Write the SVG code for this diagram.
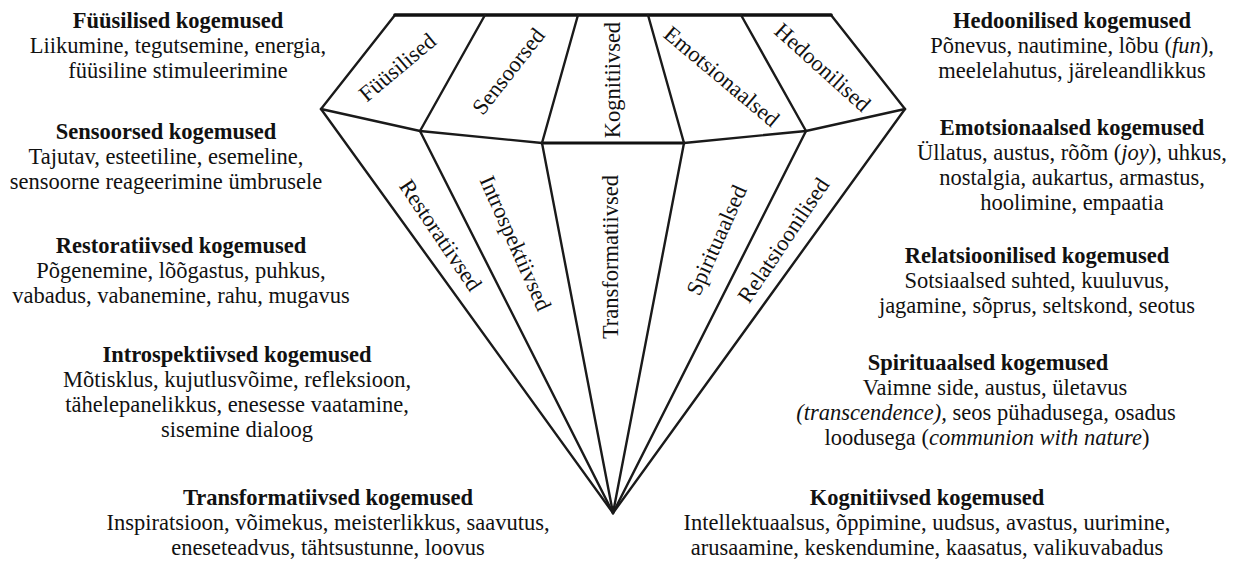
<svg xmlns="http://www.w3.org/2000/svg" width="1240" height="562" viewBox="0 0 1240 562">
<style>
  text { font-family: 'Liberation Serif', Tinos, 'Times New Roman', 'DejaVu Serif', 'Noto Serif', serif; font-size: 22.5px; fill: #111; }
  .blk text { text-anchor: middle; }
  .hd { font-weight: bold; }
  .it { font-style: italic; }
  .lbl { text-anchor: middle; }
  .edge { fill: none; stroke: #1a1a1a; stroke-width: 2.4; stroke-linejoin: miter; stroke-linecap: round; }
  .thick { fill: none; stroke: #111; stroke-width: 3.6; stroke-linecap: round; }
</style>
<rect width="1240" height="562" fill="#fff"/>

<g id="connectors">
  <path class="edge" d="M395,15 L321,109 L613,513 L905,109 L831,15"/>
  <line class="thick" x1="395" y1="15" x2="831" y2="15"/>
  <path class="edge" d="M321,109 L420,131 L542,143"/>
  <path class="edge" d="M684,143 L806,131 L905,109"/>
  <line class="thick" x1="542" y1="143" x2="684" y2="143" style="stroke-width:3"/>
  <line class="edge" x1="485" y1="15" x2="420" y2="131"/>
  <line class="edge" x1="578" y1="15" x2="542" y2="143"/>
  <line class="edge" x1="648" y1="15" x2="684" y2="143"/>
  <line class="edge" x1="741" y1="15" x2="806" y2="131"/>
  <line class="edge" x1="420" y1="131" x2="613" y2="513"/>
  <line class="edge" x1="542" y1="143" x2="613" y2="513"/>
  <line class="edge" x1="684" y1="143" x2="613" y2="513"/>
  <line class="edge" x1="806" y1="131" x2="613" y2="513"/>
</g>

<g id="facet-fyysilised"><text class="lbl" transform="translate(397,67) rotate(-40)" y="8">Füüsilised</text></g>
<g id="facet-sensoorsed"><text class="lbl" transform="translate(508,71) rotate(-52)" y="8">Sensoorsed</text></g>
<g id="facet-kognitiivsed"><text class="lbl" transform="translate(612,80) rotate(-90)" y="8">Kognitiivsed</text></g>
<g id="facet-emotsionaalsed"><text class="lbl" transform="translate(722,76) rotate(40)" y="8">Emotsionaalsed</text></g>
<g id="facet-hedoonilised"><text class="lbl" transform="translate(823,67) rotate(42)" y="8">Hedoonilised</text></g>
<g id="facet-restoratiivsed"><text class="lbl" transform="translate(441,235) rotate(56)" y="8">Restoratiivsed</text></g>
<g id="facet-introspektiivsed"><text class="lbl" transform="translate(516,243) rotate(66)" y="8">Introspektiivsed</text></g>
<g id="facet-transformatiivsed"><text class="lbl" transform="translate(610,257) rotate(-90)" y="8">Transformatiivsed</text></g>
<g id="facet-spirituaalsed"><text class="lbl" transform="translate(716,240) rotate(-66)" y="8">Spirituaalsed</text></g>
<g id="facet-relatsioonilised"><text class="lbl" transform="translate(783,240) rotate(-56)" y="8">Relatsioonilised</text></g>

<g id="blk-fyysilised" class="blk">
  <text class="hd" x="178" y="28">Füüsilised kogemused</text>
  <text x="178" y="53">Liikumine, tegutsemine, energia,</text>
  <text x="178" y="78">füüsiline stimuleerimine</text>
</g>
<g id="blk-sensoorsed" class="blk">
  <text class="hd" x="166" y="139">Sensoorsed kogemused</text>
  <text x="166" y="164">Tajutav, esteetiline, esemeline,</text>
  <text x="166" y="189">sensoorne reageerimine ümbrusele</text>
</g>
<g id="blk-restoratiivsed" class="blk">
  <text class="hd" x="181" y="253">Restoratiivsed kogemused</text>
  <text x="181" y="278">Põgenemine, lõõgastus, puhkus,</text>
  <text x="181" y="303">vabadus, vabanemine, rahu, mugavus</text>
</g>
<g id="blk-introspektiivsed" class="blk">
  <text class="hd" x="237" y="362">Introspektiivsed kogemused</text>
  <text x="237" y="387">Mõtisklus, kujutlusvõime, refleksioon,</text>
  <text x="237" y="412">tähelepanelikkus, enesesse vaatamine,</text>
  <text x="237" y="437">sisemine dialoog</text>
</g>
<g id="blk-transformatiivsed" class="blk">
  <text class="hd" x="328" y="505">Transformatiivsed kogemused</text>
  <text x="328" y="530">Inspiratsioon, võimekus, meisterlikkus, saavutus,</text>
  <text x="328" y="555">eneseteadvus, tähtsustunne, loovus</text>
</g>

<g id="blk-hedoonilised" class="blk">
  <text class="hd" x="1072" y="28">Hedoonilised kogemused</text>
  <text x="1072" y="53">Põnevus, nautimine, lõbu (<tspan class="it">fun</tspan>),</text>
  <text x="1072" y="78">meelelahutus, järeleandlikkus</text>
</g>
<g id="blk-emotsionaalsed" class="blk">
  <text class="hd" x="1072" y="135">Emotsionaalsed kogemused</text>
  <text x="1072" y="160">Üllatus, austus, rõõm (<tspan class="it">joy</tspan>), uhkus,</text>
  <text x="1072" y="185">nostalgia, aukartus, armastus,</text>
  <text x="1072" y="210">hoolimine, empaatia</text>
</g>
<g id="blk-relatsioonilised" class="blk">
  <text class="hd" x="1037" y="263">Relatsioonilised kogemused</text>
  <text x="1037" y="288">Sotsiaalsed suhted, kuuluvus,</text>
  <text x="1037" y="313">jagamine, sõprus, seltskond, seotus</text>
</g>
<g id="blk-spirituaalsed" class="blk">
  <text class="hd" x="988" y="370">Spirituaalsed kogemused</text>
  <text x="995" y="395">Vaimne side, austus, ületavus</text>
  <text x="986" y="420"><tspan class="it">(transcendence),</tspan> seos pühadusega, osadus</text>
  <text x="987" y="445">loodusega (<tspan class="it">communion with nature</tspan>)</text>
</g>
<g id="blk-kognitiivsed" class="blk">
  <text class="hd" x="927" y="505">Kognitiivsed kogemused</text>
  <text x="927" y="530">Intellektuaalsus, õppimine, uudsus, avastus, uurimine,</text>
  <text x="927" y="555">arusaamine, keskendumine, kaasatus, valikuvabadus</text>
</g>
</svg>
